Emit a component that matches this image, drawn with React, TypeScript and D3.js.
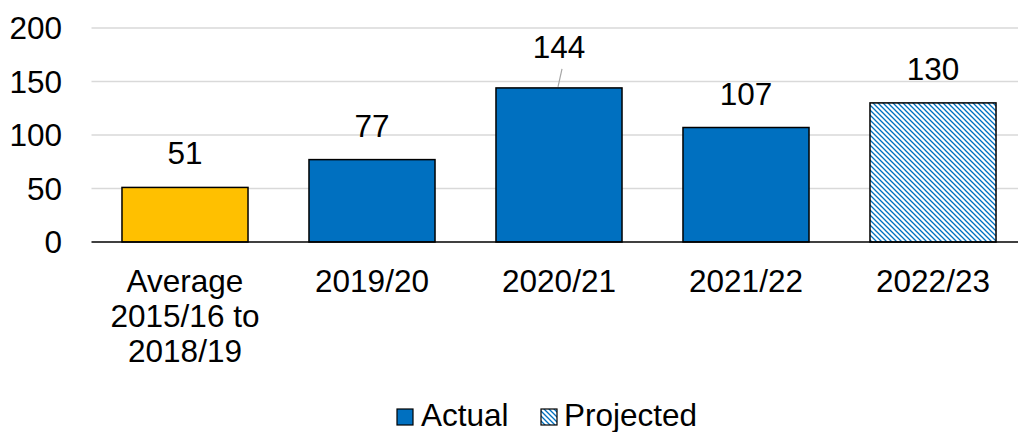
import React from 'react';
import * as d3 from 'd3';

// categories and values
const categories: string[][] = [
  ['Average', '2015/16 to', '2018/19'],
  ['2019/20'],
  ['2020/21'],
  ['2021/22'],
  ['2022/23'],
];
const values: number[] = [51, 77, 144, 107, 130];
const kinds: string[] = ['average', 'actual', 'actual', 'actual', 'projected'];
const yTicks: number[] = [0, 50, 100, 150, 200];
const legendItems: string[] = ['Actual', 'Projected'];

const width = 1018;
const height = 432;
const margin = { top: 28, right: 0, bottom: 190, left: 91.5 };
const font = 'Arial, "Liberation Sans", sans-serif';
const fontSize = 31.5;
const blue = '#0070C0';
const yellow = '#FFC000';

const App: React.FC = () => {
  const x = d3
    .scaleBand<number>()
    .domain(values.map((_, i) => i))
    .range([margin.left, margin.left + 187 * values.length])
    .paddingInner(0.326)
    .paddingOuter(0.163);

  const y = d3
    .scaleLinear()
    .domain([0, 200])
    .range([height - margin.bottom, margin.top]);

  const fillFor = (k: string) =>
    k === 'average' ? yellow : k === 'projected' ? 'url(#hatch)' : blue;

  return (
    <svg
      width={width}
      height={height}
      style={{ position: 'absolute', left: 0, top: 0, fontFamily: font }}
    >
      <defs>
        <pattern id="hatch" patternUnits="userSpaceOnUse" width={5} height={5}>
          <rect width={5} height={5} fill="#ffffff" />
          <path d="M0,0 L5,5 M-2.5,2.5 L2.5,7.5 M2.5,-2.5 L7.5,2.5" stroke={blue} strokeWidth={1.3} />
        </pattern>
      </defs>

      {/* gridlines */}
      {yTicks
        .filter((t) => t !== 0)
        .map((t) => (
          <line
            key={t}
            x1={margin.left}
            x2={width}
            y1={y(t)}
            y2={y(t)}
            stroke="#d9d9d9"
            strokeWidth={1.5}
          />
        ))}

      {/* y tick labels */}
      {yTicks.map((t) => (
        <text
          key={t}
          x={62}
          y={y(t)}
          dy="0.36em"
          textAnchor="end"
          fontSize={fontSize}
          fill="#000"
        >
          {t}
        </text>
      ))}

      {/* bars */}
      {values.map((v, i) => (
        <rect
          key={i}
          x={x(i)!}
          y={y(v)}
          width={x.bandwidth()}
          height={y(0) - y(v)}
          fill={fillFor(kinds[i])}
          stroke="#000"
          strokeWidth={1.5}
        />
      ))}

      {/* axis line */}
      <line x1={margin.left} x2={width} y1={y(0)} y2={y(0)} stroke="#000" strokeWidth={1.5} />

      {/* value labels */}
      {values.map((v, i) => {
        const cx = x(i)! + x.bandwidth() / 2;
        const raised = i === 2; // label pushed up above the gridline, with leader line
        const by = raised ? y(v) - 30 : y(v) - 23;
        return (
          <g key={i}>
            {raised && (
              <line
                x1={cx + 3}
                y1={y(v) - 19}
                x2={cx - 1}
                y2={y(v) - 1}
                stroke="#a6a6a6"
                strokeWidth={1.2}
              />
            )}
            <text x={cx} y={by} textAnchor="middle" fontSize={fontSize} fill="#000">
              {v}
            </text>
          </g>
        );
      })}

      {/* category labels */}
      {categories.map((lines, i) => (
        <text
          key={i}
          x={x(i)! + x.bandwidth() / 2}
          y={292}
          textAnchor="middle"
          fontSize={fontSize}
          fill="#000"
        >
          {lines.map((l, j) => (
            <tspan key={j} x={x(i)! + x.bandwidth() / 2} dy={j === 0 ? 0 : 35}>
              {l}
            </tspan>
          ))}
        </text>
      ))}

      {/* legend */}
      <g>
        <rect x={397} y={409} width={16} height={16} fill={blue} stroke="#000" strokeWidth={1.2} />
        <text x={421} y={426} fontSize={fontSize} fill="#000">
          {legendItems[0]}
        </text>
        <rect x={541} y={409} width={16} height={16} fill="url(#hatch)" stroke="#000" strokeWidth={1.2} />
        <text x={564} y={426} fontSize={fontSize} fill="#000">
          {legendItems[1]}
        </text>
      </g>
    </svg>
  );
};

export default App;
